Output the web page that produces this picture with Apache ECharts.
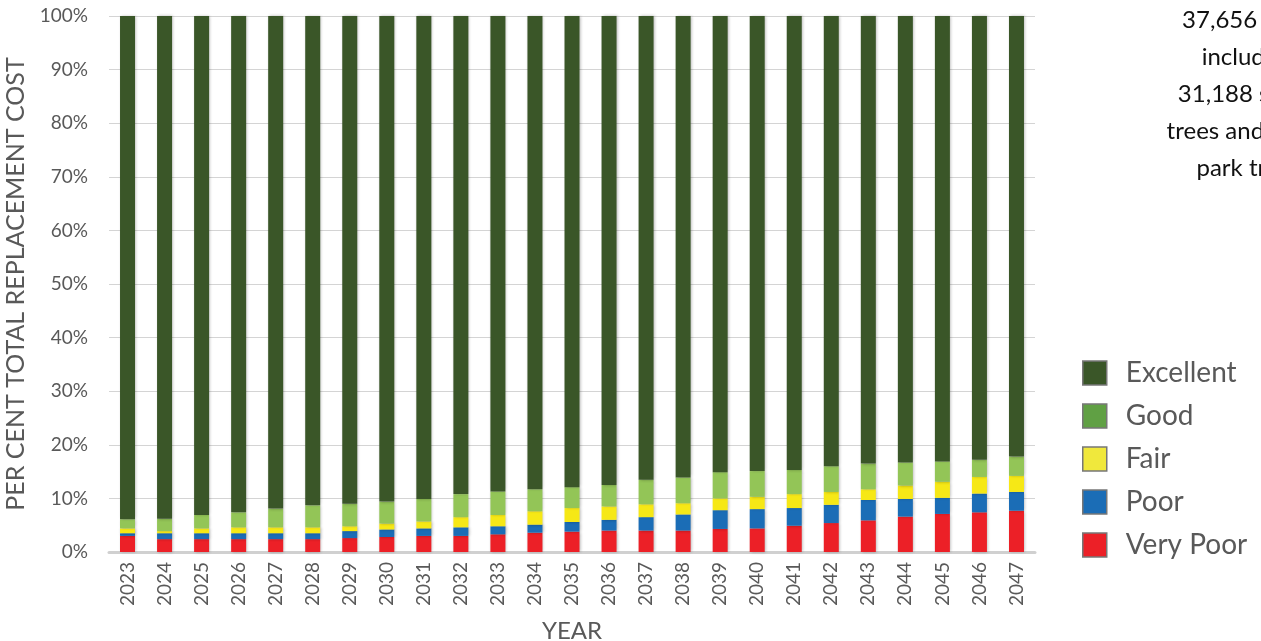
<!DOCTYPE html>
<html>
<head>
<meta charset="utf-8">
<script src="https://cdn.jsdelivr.net/npm/echarts@6/dist/echarts.min.js"></script>
<style>
  html, body { margin: 0; padding: 0; background: #fff; }
  #chart { width: 1261px; height: 641px; }
</style>
</head>
<body>
<div id="chart"></div>
<script>
const years = ['2023','2024','2025','2026','2027','2028','2029','2030','2031','2032','2033','2034','2035','2036','2037','2038','2039','2040','2041','2042','2043','2044','2045','2046','2047'];

// per cent of total replacement cost
const veryPoor  = [3.0, 2.4, 2.4, 2.4, 2.4, 2.4, 2.6, 2.8, 3.0, 3.0, 3.3, 3.6, 3.8, 4.0, 4.0, 4.0, 4.3, 4.4, 4.9, 5.4, 5.9, 6.6, 7.1, 7.4, 7.7];
const poor      = [0.5, 1.1, 1.1, 1.1, 1.1, 1.1, 1.3, 1.4, 1.4, 1.6, 1.5, 1.5, 1.8, 2.0, 2.5, 3.0, 3.5, 3.6, 3.3, 3.4, 3.8, 3.3, 3.0, 3.5, 3.5];
const fair      = [0.9, 0.4, 0.9, 1.1, 1.1, 1.1, 0.9, 1.1, 1.3, 1.9, 2.1, 2.5, 2.6, 2.5, 2.4, 2.1, 2.2, 2.3, 2.6, 2.4, 2.0, 2.5, 3.0, 3.1, 3.0];
const good      = [1.7, 2.3, 2.5, 2.8, 3.5, 4.1, 4.2, 4.1, 4.2, 4.3, 4.4, 4.1, 3.9, 4.0, 4.6, 4.8, 4.9, 4.8, 4.5, 4.8, 4.8, 4.3, 3.8, 3.2, 3.6];
const excellent = [93.9, 93.8, 93.1, 92.6, 91.9, 91.3, 91.0, 90.6, 90.1, 89.2, 88.7, 88.3, 87.9, 87.5, 86.5, 86.1, 85.1, 84.9, 84.7, 84.0, 83.5, 83.3, 83.1, 82.8, 82.2];

// side note, cut off by the right edge in the picture
const note = ['37,656 trees', 'including', '31,188 street', 'trees and 6,468', 'park trees'];

const font = 'Lato, "Open Sans", sans-serif';
const grey = '#595959';

let myChart = echarts.init(document.getElementById('chart'));

function bar(name, data, color) {
  return {
    name: name,
    type: 'bar',
    stack: 'total',
    data: data,
    barWidth: 15,
    itemStyle: {
      color: color,
      shadowColor: 'rgba(0,0,0,0.3)',
      shadowBlur: 3,
      shadowOffsetX: 1
    }
  };
}

myChart.setOption({
  animation: false,
  grid: { left: 109, right: 226, top: 16, bottom: 89, outerBoundsMode: 'none' },
  legend: {
    orient: 'vertical',
    left: 1077,
    top: 354,
    itemWidth: 24,
    itemHeight: 24,
    itemGap: 15,
    icon: 'rect',
    data: [
      { name: 'Excellent', itemStyle: { color: '#3a5628' } },
      { name: 'Good', itemStyle: { color: '#60a044' } },
      { name: 'Fair', itemStyle: { color: '#f0e83c' } },
      { name: 'Poor', itemStyle: { color: '#1b6db6' } },
      { name: 'Very Poor', itemStyle: { color: '#ec2027' } }
    ],
    itemStyle: { borderColor: '#777', borderWidth: 1.5 },
    textStyle: { fontFamily: font, fontSize: 28, lineHeight: 24, color: grey, padding: [0, 0, 0, 14] }
  },
  xAxis: {
    type: 'category',
    data: years,
    name: 'YEAR',
    nameLocation: 'middle',
    nameGap: 67,
    nameTextStyle: { fontFamily: font, fontSize: 24, color: grey },
    axisLine: { lineStyle: { color: '#d0d0d0', width: 3 } },
    axisTick: { show: false },
    axisLabel: { rotate: 90, fontFamily: font, fontSize: 19, color: grey, margin: 10 }
  },
  yAxis: {
    type: 'value',
    min: 0,
    max: 100,
    interval: 10,
    name: 'PER CENT TOTAL REPLACEMENT COST',
    nameLocation: 'middle',
    nameGap: 65,
    nameTextStyle: { fontFamily: font, fontSize: 25, color: grey },
    axisLine: { show: false },
    axisTick: { show: false },
    splitLine: { lineStyle: { color: '#d4d4d4', width: 1 } },
    axisLabel: { formatter: '{value}%', fontFamily: font, fontSize: 19, color: grey, margin: 21 }
  },
  graphic: note.map((t, i) => ({
    type: 'text',
    x: 1249,
    y: 20 + i * 37,
    style: { text: t, fill: '#111', font: '24px ' + font, textAlign: 'center', textVerticalAlign: 'middle' }
  })),
  series: [
    bar('Very Poor', veryPoor, '#ec2027'),
    bar('Poor', poor, '#1b6db6'),
    bar('Fair', fair, '#f6e816'),
    bar('Good', good, '#93c557'),
    bar('Excellent', excellent, '#3a5628')
  ]
});
</script>
</body>
</html>
